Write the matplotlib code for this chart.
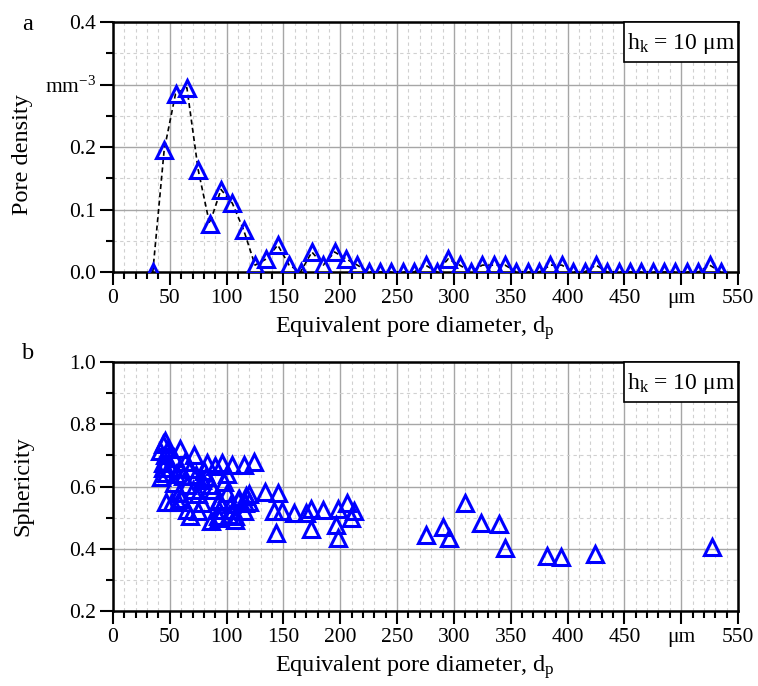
import numpy as np
import matplotlib
matplotlib.use("Agg")
import matplotlib.pyplot as plt
from matplotlib.patches import Rectangle
from matplotlib.ticker import MultipleLocator, FixedLocator, FixedFormatter

plt.rcParams["font.family"] = ["Liberation Serif", "DejaVu Serif"]
plt.rcParams["mathtext.fontset"] = "custom"
plt.rcParams["mathtext.rm"] = "Liberation Serif"
plt.rcParams["mathtext.it"] = "Liberation Serif:italic"

# panel a: pore density vs equivalent diameter (bins every 10 um)
diam_a = [35, 45, 55, 65, 75, 85, 95, 105, 115, 125, 135, 145, 155, 165, 175,
          185, 195, 205, 215, 225, 235, 245, 255, 265, 275, 285, 295, 305, 315,
          325, 335, 345, 355, 365, 375, 385, 395, 405, 415, 425, 435, 445, 455,
          465, 475, 485, 495, 505, 515, 525, 535]
density = [0.0, 0.195, 0.285, 0.295, 0.163, 0.077, 0.132, 0.110, 0.067, 0.011,
           0.021, 0.043, 0.011, 0.0, 0.032, 0.011, 0.032, 0.021, 0.011, 0.0,
           0.0, 0.0, 0.0, 0.0, 0.011, 0.0, 0.021, 0.011, 0.0, 0.011, 0.011,
           0.011, 0.0, 0.0, 0.0, 0.011, 0.011, 0.0, 0.0, 0.011, 0.0, 0.0, 0.0,
           0.0, 0.0, 0.0, 0.0, 0.0, 0.0, 0.011, 0.0]

# panel b: sphericity of single pores
diam_b = [46, 44, 48, 41, 59, 46, 54, 71, 44, 44, 59, 83, 96, 105, 115, 124, 90,
          42, 47, 54, 65, 73, 82, 98, 86, 62, 68, 78, 58, 70, 52, 65, 78, 93,
          104, 111, 116, 92, 86, 107, 68, 47, 57, 117, 110, 93, 93, 106, 107, 93,
          60, 75, 100, 88, 63, 50, 55, 80, 100, 120, 115, 102, 75, 120,
          134, 145, 142, 149, 159, 174, 170, 185, 198, 206, 212, 209, 196, 143,
          174, 198, 275, 290, 296, 310, 324, 340, 345, 382, 394, 424, 527]
spher = [0.745, 0.735, 0.72, 0.715, 0.72, 0.70, 0.69, 0.70, 0.675, 0.66, 0.66,
         0.675, 0.675, 0.67, 0.67, 0.68, 0.665, 0.63, 0.645, 0.61, 0.605, 0.637,
         0.632, 0.615, 0.605, 0.635, 0.655, 0.62, 0.58, 0.59, 0.55, 0.525, 0.547,
         0.552, 0.544, 0.559, 0.547, 0.506, 0.49, 0.504, 0.506, 0.55, 0.55, 0.568,
         0.557, 0.557, 0.525, 0.525, 0.493, 0.498, 0.56, 0.575, 0.58, 0.59, 0.68,
         0.66, 0.64, 0.65, 0.64, 0.55, 0.52, 0.51, 0.52, 0.575,
         0.581, 0.579, 0.52, 0.52, 0.516, 0.527, 0.514, 0.525, 0.527, 0.548, 0.52,
         0.498, 0.477, 0.45, 0.464, 0.434, 0.445, 0.47, 0.434, 0.547, 0.484, 0.48,
         0.402, 0.377, 0.373, 0.384, 0.405]

x_ticks = [0, 50, 100, 150, 200, 250, 300, 350, 400, 450, 500, 550]
x_labels = ["0", "50", "100", "150", "200", "250", "300", "350", "400", "450",
            "\u03bcm", "550"]
ya_ticks = [0.0, 0.1, 0.2, 0.3, 0.4]
ya_labels = ["0.0", "0.1", "0.2", "mm$^{-3}$", "0.4"]
yb_ticks = [0.2, 0.4, 0.6, 0.8, 1.0]
yb_labels = ["0.2", "0.4", "0.6", "0.8", "1.0"]

blue = "#0000ff"
fs_tick = 15.5
fs_lab = 17.5

fig = plt.figure(figsize=(7.58, 6.86), dpi=100)
ax1 = fig.add_axes([0.1491, 0.6035, 0.8245, 0.3644])
ax2 = fig.add_axes([0.1491, 0.1093, 0.8245, 0.3630])


def style(ax, yt, yl, yminor):
    ax.set_xlim(0, 550)
    ax.xaxis.set_major_locator(FixedLocator(x_ticks))
    ax.xaxis.set_major_formatter(FixedFormatter(x_labels))
    ax.xaxis.set_minor_locator(MultipleLocator(10))
    ax.yaxis.set_major_locator(FixedLocator(yt))
    ax.yaxis.set_major_formatter(FixedFormatter(yl))
    ax.yaxis.set_minor_locator(MultipleLocator(yminor))
    ax.grid(which="major", color="#a6a6a6", lw=1.0, ls="-")
    ax.grid(which="minor", color="#d0d0d0", lw=0.8, ls=(0, (3, 3)))
    ax.set_axisbelow(True)
    for s in ax.spines.values():
        s.set_linewidth(1.8)
    ax.tick_params(which="major", direction="out", length=9.5, width=1.5,
                   labelsize=fs_tick, pad=3)
    ax.tick_params(which="minor", direction="out", length=4.8, width=1.5)
    ax.set_xlabel("Equivalent pore diameter, d$_{\\mathrm{p}}$", fontsize=fs_lab)
    ax.xaxis.set_label_coords(0.482, -0.168)
    ax.add_patch(Rectangle((0.8176, 0.84), 0.1824, 0.16, transform=ax.transAxes,
                           fill=True, facecolor="white", edgecolor="black",
                           lw=1.2, zorder=5, clip_on=False))
    ax.text(0.909, 0.915, "h$_{\\mathrm{k}}$ = 10 \u03bcm", transform=ax.transAxes,
            ha="center", va="center", fontsize=fs_lab - 0.5, zorder=6)


style(ax1, ya_ticks, ya_labels, 0.05)
ax1.set_ylim(0, 0.4)
ax1.plot(diam_a, density, ls=(0, (3, 2)), color="black", lw=1.2, zorder=2)
ax1.plot(diam_a, density, ls="none", marker="^", ms=11.5, mfc="none", mec=blue,
         mew=2.2, zorder=3)
ax1.set_ylabel("Pore density", fontsize=fs_lab)
ax1.yaxis.set_label_coords(-0.128, 0.47)

style(ax2, yb_ticks, yb_labels, 0.1)
ax2.set_ylim(0.2, 1.0)
ax2.plot(diam_b, spher, ls="none", marker="^", ms=11.5, mfc="none", mec=blue,
         mew=2.2, zorder=3)
ax2.set_ylabel("Sphericity", fontsize=fs_lab)
ax2.yaxis.set_label_coords(-0.128, 0.5)

fig.text(22 / 758, 1 - 25 / 686, "a", fontsize=fs_lab, ha="left", va="center")
fig.text(22 / 758, 1 - 353 / 686, "b", fontsize=fs_lab, ha="left", va="center")

fig.savefig("out.png", dpi=100)
